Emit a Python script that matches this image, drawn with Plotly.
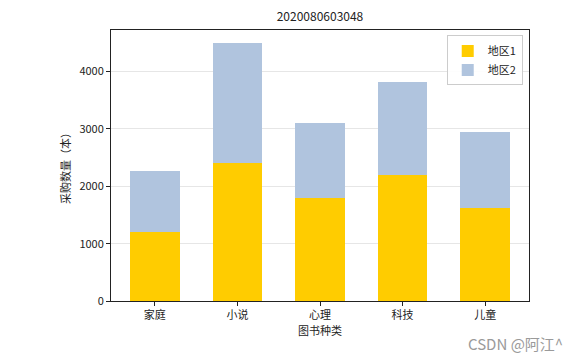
import plotly.graph_objects as go

categories = ["家庭", "小说", "心理", "科技", "儿童"]
region1 = [1200, 2400, 1800, 2200, 1620]
region2 = [1066, 2100, 1310, 1610, 1320]
series_names = ["地区1", "地区2"]
colors = ["#FFCC00", "#B0C4DE"]

FONT = "Noto Sans CJK SC, SimHei, sans-serif"
OFF = 8  # browser default body margin

W, H = 584 - OFF, 361 - OFF
L, R, T, B = 111 - OFF, 584 - 529, 30 - OFF, 361 - 301

fig = go.Figure()
fig.add_trace(go.Bar(x=list(range(len(categories))), y=region1, name=series_names[0],
                     marker=dict(color=colors[0], line=dict(width=0)), width=0.6))
fig.add_trace(go.Bar(x=list(range(len(categories))), y=region2, name=series_names[1],
                     marker=dict(color=colors[1], line=dict(width=0)), width=0.6))

fig.update_layout(
    barmode="stack",
    width=W, height=H,
    margin=dict(l=L, r=R, t=T, b=B, autoexpand=False),
    paper_bgcolor="white", plot_bgcolor="white",
    font=dict(family=FONT, size=11, color="#222"),
    title=dict(text="2020080603048", x=0.5, xref="paper", xanchor="center",
               y=1 - (16.5 - OFF) / H, yanchor="middle", font=dict(size=12, color="#222")),
    legend=dict(x=0.985, y=0.98, xanchor="right", yanchor="top",
                bgcolor="rgba(255,255,255,0.9)", bordercolor="#ccc", borderwidth=1,
                font=dict(size=11), traceorder="normal"),
    showlegend=True,
)
fig.update_xaxes(
    range=[-0.53, 4.53], automargin=False,
    tickmode="array", tickvals=list(range(len(categories))), ticktext=categories,
    ticks="outside", ticklen=4, tickcolor="#222",
    showline=True, linecolor="#222", linewidth=1, mirror=True,
    showgrid=False, zeroline=False,
    title=dict(text="图书种类", standoff=4, font=dict(size=11)),
)
fig.update_yaxes(
    range=[0, 4725], automargin=False,
    tickvals=[0, 1000, 2000, 3000, 4000],
    ticks="outside", ticklen=4, tickcolor="#222",
    showline=True, linecolor="#222", linewidth=1, mirror=True,
    showgrid=True, gridcolor="#e6e6e6", gridwidth=1, zeroline=False,
    title=dict(text="采购数量（本）", standoff=6, font=dict(size=11)),
)
fig.add_annotation(text="CSDN @阿江^", xref="paper", yref="paper",
                   x=(565 - 111) / 418, y=-(343 - 301) / 271, xanchor="right", yanchor="middle",
                   showarrow=False, font=dict(size=15, color="#9a9a9a", family=FONT))

fig.write_html("out.html")
